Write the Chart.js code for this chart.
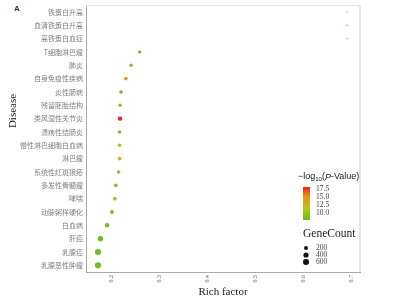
<!DOCTYPE html>
<html>
<head>
<meta charset="utf-8">
<script src="https://cdn.jsdelivr.net/npm/chart.js@4.4.1/dist/chart.umd.min.js"></script>
<style>
  body { margin: 0; background: #fff; }
  #wrap { width: 395px; height: 300px; }
</style>
</head>
<body>
<div id="wrap"><canvas id="myChart" width="395" height="300"></canvas></div>
<script>
// diseases, top to bottom
const diseases = ['铁蛋白升高', '血清铁蛋白升高', '高铁蛋白血症', 'T细胞淋巴瘤', '肺炎', '自身免疫性疾病',
  '炎性肠病', '残留胚胎结构', '类风湿性关节炎', '溃疡性结肠炎', '慢性淋巴细胞白血病', '淋巴瘤',
  '系统性红斑狼疮', '多发性骨髓瘤', '哮喘', '动脉粥样硬化', '白血病', '肝癌', '乳腺癌', '乳腺恶性肿瘤'];

const richFactor = [0.69, 0.69, 0.69, 0.258, 0.24, 0.229, 0.219, 0.217, 0.217, 0.216, 0.216, 0.216,
  0.214, 0.208, 0.206, 0.2, 0.19, 0.176, 0.171, 0.171];

const logP = [9.8, 9.8, 9.8, 9.6, 10.2, 14.6, 10.0, 11.0, 18.0, 10.0, 11.6, 13.2,
  11.0, 10.6, 11.0, 10.0, 9.8, 9.6, 9.6, 9.8];

const geneCount = [2, 2, 2, 100, 110, 150, 140, 150, 260, 140, 150, 160,
  150, 160, 160, 180, 260, 440, 600, 610];

const xTicks = [0.2, 0.3, 0.4, 0.5, 0.6, 0.7];
const colorTicks = [17.5, 15.0, 12.5, 10.0];
const sizeTicks = [200, 400, 600];

// colour ramp green -> yellow -> orange -> red
const stops = [
  [9.5, [104, 186, 42]],
  [12, [184, 200, 24]],
  [14.5, [232, 150, 22]],
  [18, [236, 30, 36]]
];
function pColor(v) {
  if (v <= stops[0][0]) return 'rgb(' + stops[0][1].join(',') + ')';
  for (let i = 1; i < stops.length; i++) {
    if (v <= stops[i][0]) {
      let t = (v - stops[i-1][0]) / (stops[i][0] - stops[i-1][0]);
      let c = stops[i-1][1].map((a, k) => Math.round(a + (stops[i][1][k] - a) * t));
      return 'rgb(' + c.join(',') + ')';
    }
  }
  return 'rgb(' + stops[stops.length-1][1].join(',') + ')';
}
function gRadius(n) {
  return 0.6 + Math.sqrt(n) * 0.1;
}

let points = diseases.map((d, i) => ({ x: richFactor[i], y: d }));

// legend + extra labels
const extras = {
  id: 'extras',
  afterDraw(chart) {
    const ctx = chart.ctx;
    const a = chart.chartArea;
    ctx.save();
    // panel top / right border
    ctx.strokeStyle = '#dcdcdc';
    ctx.lineWidth = 1;
    ctx.beginPath();
    ctx.moveTo(a.left, a.top + 0.5);
    ctx.lineTo(a.right, a.top + 0.5);
    ctx.stroke();
    ctx.strokeStyle = '#e6e6e6';
    ctx.lineWidth = 2;
    ctx.beginPath();
    ctx.moveTo(a.right, a.top);
    ctx.lineTo(a.right, a.bottom);
    ctx.stroke();

    // panel letter
    ctx.fillStyle = '#2a3a5a';
    ctx.font = 'bold 8px "Liberation Sans"';
    ctx.textBaseline = 'middle';
    ctx.textAlign = 'left';
    ctx.fillText('A', 14, 9);

    // y title
    ctx.save();
    ctx.translate(13, 111);
    ctx.rotate(-Math.PI / 2);
    ctx.fillStyle = '#222';
    ctx.font = '11px "Liberation Serif"';
    ctx.textAlign = 'center';
    ctx.fillText('Disease', 0, 0);
    ctx.restore();

    // colour legend title
    let lx = 298, ly = 177;
    ctx.fillStyle = '#222';
    ctx.font = '9px "Liberation Sans"';
    ctx.textAlign = 'left';
    let t1 = '\u2212log';
    ctx.fillText(t1, lx, ly);
    let w = ctx.measureText(t1).width;
    ctx.font = '6px "Liberation Sans"';
    ctx.fillText('10', lx + w, ly + 2);
    w += ctx.measureText('10').width;
    ctx.font = '9px "Liberation Sans"';
    ctx.fillText('(', lx + w, ly);
    w += ctx.measureText('(').width;
    ctx.font = 'italic 9px "Liberation Sans"';
    ctx.fillText('P', lx + w, ly);
    w += ctx.measureText('P').width;
    ctx.font = '9px "Liberation Sans"';
    ctx.fillText('-Value)', lx + w, ly);

    // colour bar
    let bx = 303, bTop = 187, bBot = 220;
    let grad = ctx.createLinearGradient(0, bBot, 0, bTop);
    grad.addColorStop(0, pColor(9.5));
    grad.addColorStop(0.35, pColor(12));
    grad.addColorStop(0.7, pColor(14.5));
    grad.addColorStop(1, pColor(18));
    ctx.fillStyle = grad;
    ctx.fillRect(bx, bTop, 7, bBot - bTop);
    ctx.fillStyle = '#444';
    ctx.font = '7.5px "Liberation Serif"';
    colorTicks.forEach((v, i) => {
      ctx.fillText(v.toFixed(1), 316, 189.5 + i * 7.8);
    });

    // size legend
    ctx.fillStyle = '#222';
    ctx.font = '11.5px "Liberation Serif"';
    ctx.fillText('GeneCount', 303, 234);
    ctx.font = '7.5px "Liberation Serif"';
    sizeTicks.forEach((v, i) => {
      let yy = 248 + i * 7;
      ctx.fillStyle = '#111';
      ctx.beginPath();
      ctx.arc(306, yy, gRadius(v), 0, Math.PI * 2);
      ctx.fill();
      ctx.fillStyle = '#444';
      ctx.fillText(String(v), 316, yy);
    });
    ctx.restore();
  }
};

const myChart = document.getElementById('myChart');

let dotChart = new Chart(myChart, {
  type: 'scatter',
  data: {
    datasets: [{
      data: points,
      pointRadius: logP.map((v, i) => gRadius(geneCount[i])),
      pointBackgroundColor: logP.map(v => pColor(v)),
      pointBorderWidth: 0,
      pointBorderColor: 'rgba(0,0,0,0)'
    }]
  },
  options: {
    responsive: false,
    animation: false,
    layout: { padding: { left: 0, right: 35, top: 4, bottom: 0 } },
    plugins: {
      legend: { display: false },
      tooltip: { enabled: false }
    },
    scales: {
      x: {
        type: 'linear',
        min: 0.146,
        max: 0.717,
        afterBuildTicks: s => { s.ticks = xTicks.map(v => ({ value: v })); },
        afterFit: s => { s.height = 28; },
        grid: { display: false, drawTicks: true, tickLength: 2, tickColor: '#999' },
        border: { color: '#aaa' },
        ticks: {
          minRotation: 90, maxRotation: 90,
          padding: 1,
          color: '#666',
          font: { family: 'Liberation Serif', size: 6 },
          callback: v => v.toFixed(1)
        },
        title: {
          display: true,
          text: 'Rich factor',
          color: '#222',
          font: { family: 'Liberation Serif', size: 11 },
          padding: { top: 0, bottom: 1 }
        }
      },
      y: {
        type: 'category',
        labels: diseases,
        offset: true,
        afterFit: s => { s.width = 86; },
        grid: { display: false, drawTicks: true, tickLength: 2, tickColor: '#999' },
        border: { color: '#aaa' },
        ticks: {
          color: '#808080',
          padding: 1,
          autoSkip: false,
          font: { family: 'Noto Sans CJK SC', size: 7 }
        }
      }
    }
  },
  plugins: [extras]
});
</script>
</body>
</html>
